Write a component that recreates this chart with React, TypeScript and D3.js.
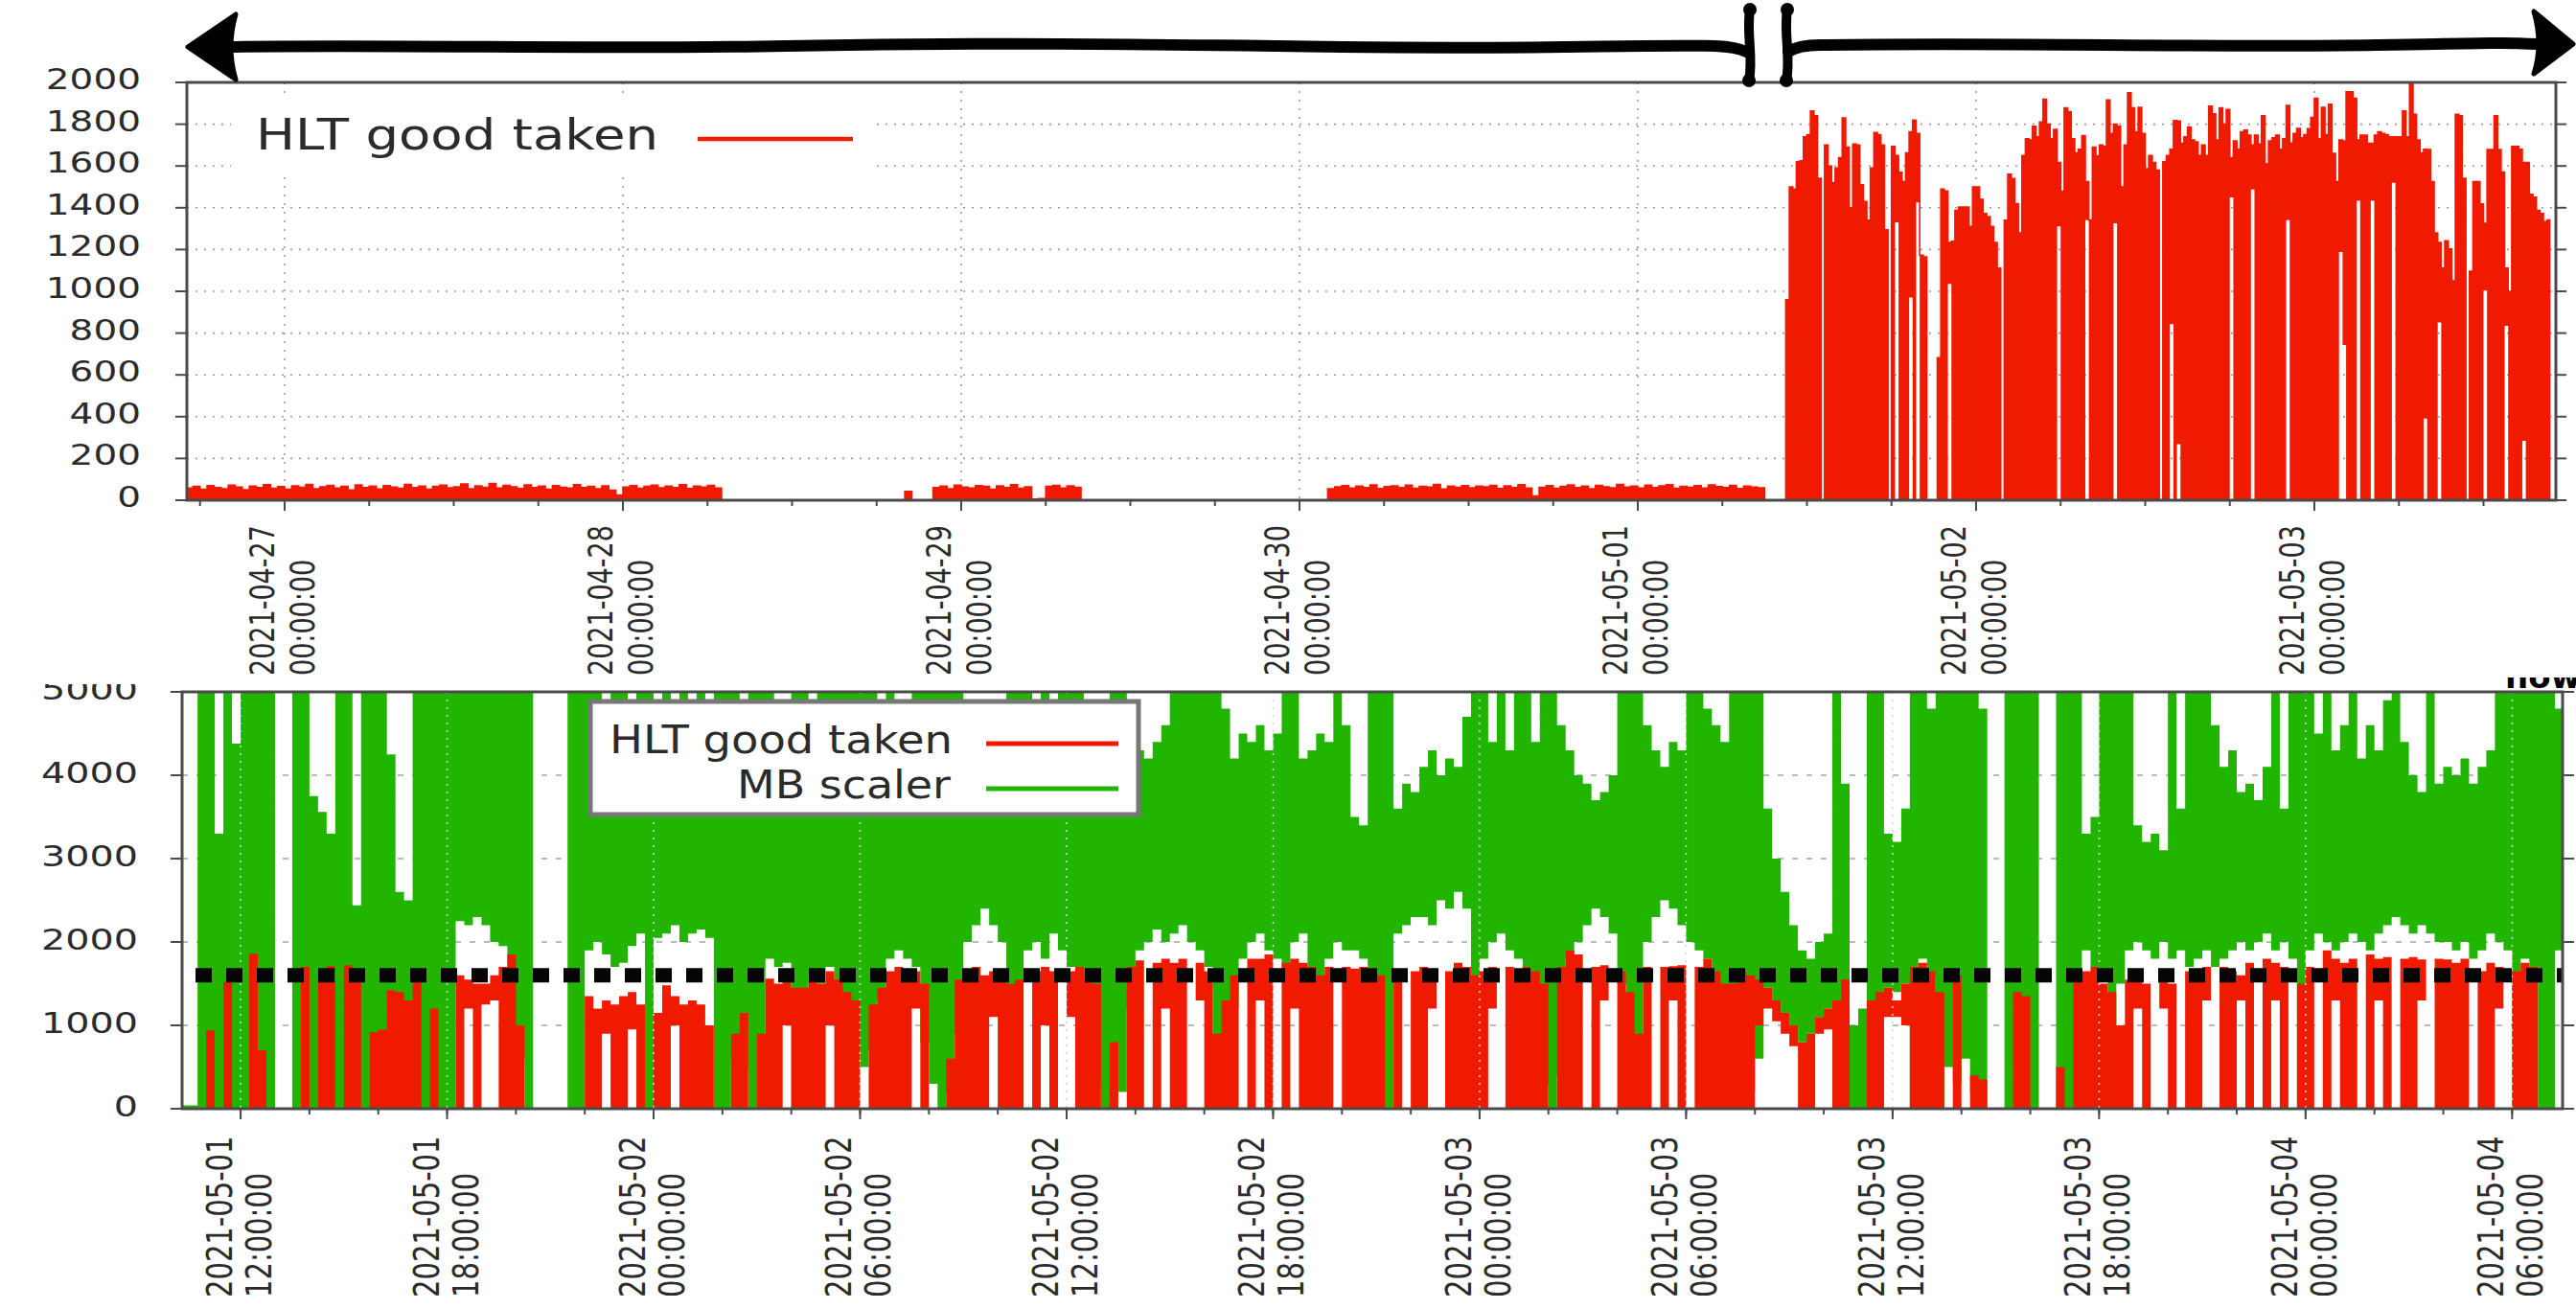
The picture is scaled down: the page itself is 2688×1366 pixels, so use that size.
import React from 'react';
import * as d3 from 'd3';

const FONT = "'DejaVu Sans', Verdana, sans-serif";
const RED = '#f01a00';
const GREEN = '#21b500';
const INK = '#2b2b2b';
const FRAME = '#4a4a4a';

// ---------- upper panel: HLT good taken, one week ----------
// 30-minute samples from 2021-04-26 17:00 UTC (cosmics / low-rate period)
const topLowStart = '2021-04-26T17:00:00Z';
const topLowRate = [
  58, 66, 52, 70, 61, 55, 72, 63, 50, 68,
  60, 74, 57, 65, 53, 69, 62, 76, 55, 64,
  71, 58, 66, 49, 73, 60, 67, 54, 70, 63,
  57, 75, 61, 68, 52, 66, 72, 59, 64, 78,
  55, 69, 62, 80, 58, 71, 64, 56, 73, 60,
  67, 53, 70, 62, 58, 74, 61, 66, 55, 69,
  48, 25, 63, 70, 57, 66, 72, 59, 68, 61,
  74, 56, 67, 63, 71, 58,
  0, 0, 0, 0, 0, 0, 0, 0, 0, 0,
  0, 0, 0, 0, 0, 0, 0, 0, 0, 0,
  0, 0, 0, 0, 0, 0,
  42, 0, 0, 0,
  60, 68, 55, 72, 63, 58, 70, 66, 52, 69, 61, 74, 57, 64,
  6, 8,
  66, 71, 58, 69, 62,
  0, 0, 0, 0, 0, 0, 0, 0, 0, 0,
  0, 0, 0, 0, 0, 0, 0, 0, 0, 0,
  0, 0, 0, 0, 0, 0, 0, 0, 0, 0,
  0, 0, 0, 0, 0,
  55, 64, 70, 58, 67, 61, 73, 56, 65, 69,
  60, 72, 57, 66, 63, 75, 54, 68, 62, 70,
  59, 67, 64, 71, 56, 69, 61, 74, 58, 20,
  62, 70, 57, 66, 73, 60, 68, 55, 71, 64,
  59, 76, 63, 67, 58, 72, 61, 69, 74, 57,
  66, 62, 70, 58, 73, 65, 60, 71, 56, 68, 63, 59,
  0, 0, 0,
];

// 15-minute peak rates from 2021-05-01 10:30 UTC (collisions)
const topHighStart = '2021-05-01T10:30:00Z';
const topHighPeak = [
  960, 1500, 1490, 1620, 1625, 1740, 1750, 1863, 1840, 1541,
  0, 1700, 1600, 1520, 1590, 1640, 1830, 1690, 1400, 1705,
  1700, 1510, 1430, 1340, 1590, 1760, 1750, 1700, 1295, 0,
  1694, 1650, 1570, 1525, 1663, 1763, 1820, 1755, 1173, 1165,
  0, 0, 0, 682, 1490, 1480, 1234, 1240, 1387, 1403,
  1403, 1403, 1311, 1500, 1500, 1440, 1372, 1357, 1311, 1234,
  1111, 0, 1340, 1560, 1540, 1420, 1280, 1650, 1730, 1725,
  1790, 1740, 1810, 1920, 1800, 1730, 1775, 1617, 1479, 1878,
  1860, 1730, 1663, 1680, 1745, 1525, 1341, 1690, 1648, 1700,
  1694, 1916, 1755, 1800, 1790, 1500, 1700, 1950, 1878, 1763,
  1880, 1755, 1587, 1650, 1617, 1580, 0, 1620, 1650, 1680,
  1817, 1815, 1709, 1740, 1786, 1725, 1715, 1650, 1700, 1650,
  1886, 1850, 1725, 1878, 1800, 1870, 1640, 1720, 1680, 1763,
  1771, 1748, 1700, 1748, 1705, 1840, 1610, 1720, 1735, 1748,
  1680, 1730, 1890, 1710, 1755, 1780, 1735, 1750, 1778, 1832,
  1924, 1730, 1880, 1750, 1895, 1660, 1525, 1725, 1720, 1955,
  1955, 1924, 1725, 1748, 1748, 1709, 1709, 1748, 1763, 1755,
  1750, 1740, 1740, 1740, 1740, 1863, 1740, 2000, 1847, 1725,
  1663, 1680, 1679, 1525, 1280, 1234, 1111, 1242, 1203, 1050,
  1847, 1840, 1541, 0, 1096, 1525, 1525, 1418, 1326, 1679,
  1679, 1840, 1679, 1571, 1111, 1000, 1694, 1694, 1680, 1617,
  1617, 1464, 1450, 1387, 1372, 1334, 1341,
];
// [sample index, lowest rate reached inside that sample]
const topHighFloor = [
  [31, 1330], [35, 970], [37, 1426], [46, 1035], [77, 1311], [85, 1341],
  [93, 1326], [109, 843], [111, 268], [126, 1449], [132, 1487], [142, 1341],
  [157, 1188], [158, 743], [162, 1433], [166, 1433], [172, 1520], [181, 391],
  [185, 851], [198, 1004], [204, 835], [209, 284],
];
const topDays = ['2021-04-27', '2021-04-28', '2021-04-29', '2021-04-30', '2021-05-01', '2021-05-02', '2021-05-03'];
const topYTicks = [0, 200, 400, 600, 800, 1000, 1200, 1400, 1600, 1800, 2000];

// ---------- lower panel: HLT good taken vs MB scaler, 15-minute ranges ----------
const bottomStart = '2021-05-01T10:15:00Z';
const mbLow = [
  0, 0, 0, 0, 0, 0, 0, 0, 0, 0, 0, 0,
  0, 0, 0, 0, 0, 0, 0, 0, 0, 0, 0, 0,
  0, 0, 0, 0, 0, 0, 0, 0, 2250, 2200, 2300, 2200,
  2000, 1950, 0, 600, 0, 0, 0, 0, 0, 0, 0, 1900,
  2000, 1850, 1700, 1750, 1950, 2100, 0, 2050, 2100, 2200, 2000, 2100,
  2150, 2050, 0, 0, 600, 500, 0, 0, 1800, 1700, 1750, 0,
  900, 1600, 1500, 1700, 1400, 1100, 700, 500, 700, 1300, 1800, 1900,
  1800, 1700, 800, 300, 0, 200, 900, 2000, 2200, 2400, 2200, 2000,
  0, 0, 1900, 2000, 1800, 2100, 1900, 1700, 1500, 1000, 300, 0,
  0, 200, 1200, 1900, 2000, 2150, 2000, 2100, 2200, 2000, 1900, 1700,
  0, 300, 1200, 1800, 2000, 2100, 1900, 1800, 1700, 2000, 2100, 0,
  0, 1800, 2000, 1900, 1900, 1800, 0, 0, 0, 2100, 2200, 2300,
  2300, 2200, 2500, 2400, 2600, 2400, 0, 1800, 2000, 2100, 1900, 1800,
  1700, 1200, 300, 0, 400, 1800, 2000, 2200, 2400, 2300, 2100, 1500,
  0, 0, 2000, 2300, 2500, 2400, 2200, 2000, 1900, 1800, 900, 200,
  0, 0, 200, 600, 1450, 1300, 1150, 1000, 800, 900, 1100, 1200,
  0, 900, 0, 0, 0, 0, 1450, 1400, 1500, 0, 1800, 1600,
  0, 500, 300, 600, 200, 0, 0, 0, 0, 0, 0, 0,
  0, 0, 0, 0, 0, 1900, 1700, 1600, 0, 1500, 1900, 2000,
  1900, 1800, 2000, 1800, 1900, 1700, 1800, 1900, 1700, 1800, 1900, 2000,
  1900, 2000, 2100, 1900, 2000, 1800, 0, 1900, 2100, 2000, 1900, 2000,
  2100, 2000, 1900, 2100, 2200, 2300, 2200, 2100, 2200, 2100, 2000, 2000,
  1900, 2000, 1800, 1900, 2100, 2000, 1900, 0, 1800, 1700, 0, 0,
  1900,
];
const mbHigh = [
  40, 40, 5600, 5600, 3300, 5600, 4380, 5600, 5600, 5600, 5600, 0,
  0, 5600, 5600, 3750, 3560, 3300, 5600, 5600, 2440, 5600, 5600, 5600,
  4250, 2600, 2500, 5600, 5600, 5600, 5600, 5600, 5600, 5600, 5600, 5600,
  5600, 5600, 5600, 5600, 5600, 0, 0, 0, 0, 5600, 5600, 5600,
  5600, 4600, 5600, 5600, 4500, 5600, 5600, 4600, 5600, 4500, 5600, 4700,
  5600, 4600, 5600, 5600, 5600, 4700, 5600, 5600, 5600, 4300, 4500, 5600,
  5600, 4600, 5600, 5600, 5600, 5600, 5600, 5600, 5600, 4500, 5600, 4400,
  4600, 5600, 5600, 5600, 5600, 5600, 5600, 4500, 4400, 4500, 4600, 4500,
  5600, 5600, 5600, 4400, 5600, 4500, 5600, 5600, 5600, 4300, 4200, 4300,
  5600, 5600, 4600, 4300, 4200, 4400, 4600, 5600, 5600, 5600, 5600, 5600,
  5600, 4800, 4200, 4500, 4400, 4600, 4300, 4500, 5600, 5600, 4200, 4300,
  4500, 4400, 5600, 4600, 3500, 3400, 5600, 5600, 5600, 3600, 3900, 3800,
  4100, 4300, 4000, 4200, 4100, 4700, 5600, 5600, 4400, 5600, 4300, 5600,
  5600, 4400, 5600, 5600, 4600, 4300, 4000, 3900, 3700, 3800, 4000, 5600,
  5600, 5600, 4600, 4300, 4100, 4400, 4300, 5600, 5600, 4800, 4600, 4400,
  5600, 5600, 5600, 5600, 3600, 3000, 2600, 2200, 1900, 1800, 2000, 2100,
  5600, 3900, 1000, 1200, 5600, 5600, 3300, 3200, 3600, 5600, 5600, 4800,
  5600, 5600, 5600, 5600, 5600, 4800, 0, 0, 5600, 5600, 5600, 5600,
  0, 0, 5600, 5600, 5600, 3300, 3500, 5600, 5600, 5600, 5600, 3400,
  3200, 3300, 3100, 5600, 3600, 5600, 5600, 5600, 4600, 4100, 4300, 3800,
  3900, 3700, 4100, 5600, 3600, 5600, 5600, 5600, 4500, 5600, 4300, 4600,
  5600, 4200, 4600, 4300, 4900, 5600, 4400, 4000, 3800, 5600, 3900, 4100,
  4000, 4200, 3900, 4100, 4300, 5600, 5600, 5600, 5600, 5600, 5600, 5600,
  4800,
];
const hltLow = [
  0, 0, 0, 0, 0, 0, 0, 0, 0, 0, 0, 0,
  0, 0, 0, 0, 0, 0, 0, 0, 0, 0, 0, 0,
  0, 0, 0, 0, 0, 0, 0, 0, 0, 1200, 0, 1250,
  1300, 0, 0, 0, 0, 0, 0, 0, 0, 0, 0, 0,
  0, 900, 0, 0, 950, 0, 0, 0, 0, 1000, 0, 0,
  0, 0, 0, 0, 0, 0, 0, 0, 0, 0, 1000, 0,
  0, 0, 0, 1000, 0, 0, 0, 0, 0, 0, 0, 0,
  0, 1200, 0, 0, 0, 0, 0, 0, 0, 0, 1100, 0,
  0, 0, 0, 0, 1000, 0, 0, 1100, 0, 0, 0, 0,
  0, 0, 0, 0, 0, 0, 1200, 0, 0, 0, 1300, 0,
  0, 0, 0, 0, 0, 1300, 0, 0, 0, 1200, 0, 0,
  0, 0, 0, 0, 0, 0, 0, 0, 0, 0, 0, 0,
  0, 1200, 0, 0, 0, 0, 0, 0, 1200, 0, 0, 0,
  0, 0, 0, 0, 0, 0, 0, 0, 0, 1300, 0, 0,
  0, 0, 0, 0, 0, 1300, 0, 0, 0, 0, 0, 0,
  0, 0, 0, 1000, 1200, 1050, 900, 750, 0, 0, 900, 950,
  0, 0, 0, 0, 0, 0, 1100, 1100, 1000, 0, 0, 0,
  0, 0, 0, 0, 0, 0, 0, 0, 0, 0, 0, 0,
  0, 0, 0, 0, 0, 0, 0, 0, 0, 0, 0, 1200,
  0, 0, 1200, 0, 0, 0, 0, 1300, 0, 0, 0, 1300,
  0, 0, 0, 1300, 0, 0, 0, 0, 0, 0, 1300, 0,
  0, 0, 0, 1300, 0, 0, 0, 0, 1300, 0, 0, 0,
  0, 0, 0, 0, 0, 1200, 0, 0, 0, 0, 0, 0,
  0,
];
const hltHigh = [
  0, 0, 0, 940, 0, 1520, 0, 0, 1860, 700, 0, 0,
  0, 0, 1700, 0, 1650, 1710, 0, 1720, 1650, 0, 920, 950,
  1420, 1400, 1300, 1560, 0, 1200, 0, 0, 1600, 1550, 1500, 1500,
  1600, 1700, 1850, 1000, 0, 0, 0, 0, 0, 0, 0, 1350,
  1200, 1300, 1250, 1350, 1400, 1250, 0, 1150, 1480, 1350, 1250, 1300,
  1250, 1000, 0, 0, 900, 1150, 0, 900, 1560, 1500, 1550, 1450,
  1450, 1600, 1500, 1650, 1550, 1400, 1300, 0, 1250, 1450, 1650, 1700,
  1600, 1650, 1500, 0, 0, 600, 1550, 1650, 1700, 1600, 1650, 1600,
  1500, 1550, 0, 1650, 1700, 1650, 0, 1650, 1700, 1600, 1500, 0,
  800, 0, 1700, 1780, 0, 1750, 1800, 1750, 1800, 0, 1750, 1650,
  900, 1300, 1600, 0, 1800, 1800, 1850, 0, 1750, 1800, 1750, 1700,
  1600, 1700, 0, 1700, 1680, 1700, 1650, 1600, 0, 1650, 0, 1650,
  1700, 1680, 0, 1650, 1750, 1700, 1600, 1650, 1700, 0, 1700, 1650,
  1700, 1650, 1500, 0, 1700, 1900, 1850, 0, 1700, 1720, 0, 1650,
  1400, 900, 1700, 0, 1700, 1710, 1720, 0, 1700, 1800, 1650, 1500,
  1500, 1650, 1600, 1550, 1450, 1300, 1150, 1000, 800, 900, 1100, 1200,
  1300, 1550, 0, 0, 1300, 1400, 1450, 1300, 1500, 1700, 1750, 1650,
  1400, 0, 1600, 0, 400, 350, 0, 0, 0, 1400, 1350, 0,
  0, 0, 500, 0, 1600, 1650, 1700, 1500, 1400, 1000, 1550, 1600,
  1500, 0, 1550, 1500, 0, 1650, 1600, 1700, 0, 1700, 1650, 1600,
  1750, 0, 1800, 1750, 1700, 0, 1500, 1700, 0, 1900, 1800, 1750,
  1800, 0, 1850, 1800, 1820, 0, 1800, 1820, 1790, 0, 1800, 1790,
  1750, 1800, 0, 1650, 1750, 1700, 0, 1650, 1750, 1700, 0, 0,
  0,
];
const bottomTicks = [
  '2021-05-01T12:00:00Z', '2021-05-01T18:00:00Z', '2021-05-02T00:00:00Z', '2021-05-02T06:00:00Z',
  '2021-05-02T12:00:00Z', '2021-05-02T18:00:00Z', '2021-05-03T00:00:00Z', '2021-05-03T06:00:00Z',
  '2021-05-03T12:00:00Z', '2021-05-03T18:00:00Z', '2021-05-04T00:00:00Z', '2021-05-04T06:00:00Z',
];
const bottomYTicks = [0, 1000, 2000, 3000, 4000, 5000];
const hltTarget = 1600;

const MIN = 60e3;
const fmtDate = d3.utcFormat('%Y-%m-%d');
const fmtTime = d3.utcFormat('%H:%M:%S');

type Bin = { t: number; lo: number; hi: number };

function stepArea(x: (t: number) => number, y: d3.ScaleLinear<number, number>) {
  return d3
    .area<Bin>()
    .x((d) => x(d.t))
    .y0((d) => y(d.lo))
    .y1((d) => y(d.hi))
    .curve(d3.curveStepAfter);
}

function withEnd(bins: Bin[], stepMs: number): Bin[] {
  const last = bins[bins.length - 1];
  return [...bins, { ...last, t: last.t + stepMs }];
}

export default function App() {
  // ----- upper panel scales -----
  const tx = d3
    .scaleUtc()
    .domain([new Date('2021-04-26T17:04:00Z'), new Date('2021-05-03T17:08:00Z')])
    .range([195, 2667]);
  const ty = d3.scaleLinear().domain([0, 2000]).range([522, 86]);
  const txn = (t: number) => tx(new Date(t));

  const lowT0 = +new Date(topLowStart);
  const highT0 = +new Date(topHighStart);
  const floorByBin = new Map<number, number>(topHighFloor as [number, number][]);
  const topBins: Bin[] = [
    ...topLowRate.map((v, i) => ({ t: lowT0 + i * 30 * MIN, lo: 0, hi: v })),
    ...topHighPeak.map((v, i) => ({ t: highT0 + i * 15 * MIN, lo: floorByBin.get(i) ?? 0, hi: v })),
  ];
  const topSeries = withEnd(topBins, 15 * MIN);
  const topAreaPath = stepArea(txn, ty)(topSeries) || '';
  const topEdgePath =
    d3
      .line<Bin>()
      .x((d) => txn(d.t))
      .y((d) => ty(d.hi))
      .curve(d3.curveStepAfter)(topSeries) || '';

  const [tD0, tD1] = tx.domain();
  const topMinor = d3.utcHour.every(6)!.range(tD0, tD1);
  const topMajor = topDays.map((d) => new Date(d + 'T00:00:00Z'));

  // ----- lower panel scales -----
  const bx = d3
    .scaleUtc()
    .domain([new Date('2021-05-01T10:18:00Z'), new Date('2021-05-04T07:28:00Z')])
    .range([190, 2674]);
  const by = d3.scaleLinear().domain([0, 5000]).range([1157, 722]);
  const bxn = (t: number) => bx(new Date(t));
  const b0 = +new Date(bottomStart);
  const mbSeries = withEnd(
    mbLow.map((lo, k) => ({ t: b0 + k * 15 * MIN, lo, hi: mbHigh[k] })),
    15 * MIN
  );
  const hltSeries = withEnd(
    hltLow.map((lo, k) => ({ t: b0 + k * 15 * MIN, lo, hi: hltHigh[k] })),
    15 * MIN
  );
  const mbPath = stepArea(bxn, by)(mbSeries) || '';
  const hltPath = stepArea(bxn, by)(hltSeries) || '';
  const [bD0, bD1] = bx.domain();
  const bottomMinor = d3.utcHour.every(2)!.range(bD0, bD1);
  const bottomMajor = bottomTicks.map((s) => new Date(s));

  const [tL, tR] = tx.range();
  const [tB, tT] = ty.range();
  const [bL, bR] = bx.range();
  const [bB, bT] = by.range();

  return (
    <svg
      width={2688}
      height={1366}
      viewBox="0 0 2688 1366"
      style={{ position: 'absolute', left: 0, top: 0, background: '#fff' }}
      fontFamily={FONT}
    >
      <defs>
        <clipPath id="topPlot">
          <rect x={tL} y={tT} width={tR - tL} height={tB - tT} />
        </clipPath>
        <clipPath id="bottomPlot">
          <rect x={bL} y={bT} width={bR - bL} height={bB - bT} />
        </clipPath>
        <clipPath id="bottomLabels">
          <rect x={0} y={714} width={2688} height={652} />
        </clipPath>
        <clipPath id="nowClip">
          <rect x={2560} y={707} width={128} height={14} />
        </clipPath>
      </defs>
      <rect x={0} y={0} width={2688} height={1366} fill="#fff" />

      {/* ================= upper panel ================= */}
      <g>
        {topYTicks.slice(1, -1).map((v) => (
          <line key={'tg' + v} x1={tL} x2={tR} y1={ty(v)} y2={ty(v)} stroke="#9c9c9c" strokeWidth={1.6} strokeDasharray="2 7" />
        ))}
        {topMajor.map((d) => (
          <line key={'tv' + +d} x1={tx(d)} x2={tx(d)} y1={tT} y2={tB} stroke="#9c9c9c" strokeWidth={1.6} strokeDasharray="2 7" />
        ))}
        {/* legend background */}
        <rect x={241} y={104} width={670} height={78} fill="#fff" />
        <text x={267} y={156} fontSize={44} fill={INK} textLength={420} lengthAdjust="spacingAndGlyphs">
          HLT good taken
        </text>
        <line x1={728} x2={890} y1={145} y2={145} stroke={RED} strokeWidth={4.5} />

        <g clipPath="url(#topPlot)">
          <path d={topAreaPath} fill={RED} />
          <path d={topEdgePath} fill="none" stroke={RED} strokeWidth={1.6} />
        </g>

        <rect x={tL} y={tT} width={tR - tL} height={tB - tT} fill="none" stroke={FRAME} strokeWidth={3} />

        {topYTicks.map((v) => (
          <g key={'ty' + v}>
            <line x1={tL - 12} x2={tL} y1={ty(v)} y2={ty(v)} stroke={FRAME} strokeWidth={2} />
            <line x1={tR} x2={tR + 11} y1={ty(v)} y2={ty(v)} stroke={FRAME} strokeWidth={2} />
            <text
              transform={`translate(147,${ty(v) + 6.9}) scale(1.3,1)`}
              textAnchor="end"
              fontSize={30}
              fill={INK}
            >
              {v}
            </text>
          </g>
        ))}
        {topMinor.map((d) => (
          <line key={'tm' + +d} x1={tx(d)} x2={tx(d)} y1={tB} y2={tB + 6} stroke={FRAME} strokeWidth={2} />
        ))}
        {topMajor.map((d) => (
          <g key={'tl' + +d}>
            <line x1={tx(d)} x2={tx(d)} y1={tB} y2={tB + 11} stroke={FRAME} strokeWidth={2} />
            <text transform={`translate(${tx(d) - 11},705) rotate(-90) scale(1,1.3)`} fontSize={27} fill={INK}>
              {fmtDate(d)}
            </text>
            <text transform={`translate(${tx(d) + 31},705) rotate(-90) scale(1,1.3)`} fontSize={27} fill={INK}>
              {fmtTime(d)}
            </text>
          </g>
        ))}
      </g>

      {/* ================= lower panel ================= */}
      <g>
        {bottomYTicks.slice(1, -1).map((v) => (
          <line key={'bg' + v} x1={bL} x2={bR} y1={by(v)} y2={by(v)} stroke="#a4a4a4" strokeWidth={1.6} strokeDasharray="6 9" />
        ))}
        <g clipPath="url(#bottomPlot)">
          <path d={mbPath} fill={GREEN} />
          <path d={hltPath} fill={RED} />
        </g>
        {bottomMajor.map((d) => (
          <line key={'bv' + +d} x1={bx(d)} x2={bx(d)} y1={bT} y2={bB} stroke="#d6d6d6" strokeWidth={1.6} strokeDasharray="2 6" />
        ))}
        <line
          x1={bL}
          x2={bR}
          y1={by(hltTarget)}
          y2={by(hltTarget)}
          stroke="#050505"
          strokeWidth={15}
          strokeDasharray="17 15"
          strokeDashoffset={18}
        />
        <rect x={bL} y={bT} width={bR - bL} height={bB - bT} fill="none" stroke={FRAME} strokeWidth={3} />

        {/* legend */}
        <rect x={616} y={732} width={572} height={118} fill="#fff" stroke="#777" strokeWidth={5} />
        <text x={636} y={786} fontSize={40} fill={INK} textLength={358} lengthAdjust="spacingAndGlyphs">
          HLT good taken
        </text>
        <text x={769} y={833} fontSize={40} fill={INK} textLength={223} lengthAdjust="spacingAndGlyphs">
          MB scaler
        </text>
        <line x1={1029} x2={1167} y1={776} y2={776} stroke={RED} strokeWidth={5} />
        <line x1={1029} x2={1167} y1={823} y2={823} stroke={GREEN} strokeWidth={5} />

        <g clipPath="url(#bottomLabels)">
          {bottomYTicks.map((v) => (
            <g key={'by' + v}>
              <line x1={bL - 12} x2={bL} y1={by(v)} y2={by(v)} stroke={FRAME} strokeWidth={2} />
              <line x1={bR} x2={bR + 12} y1={by(v)} y2={by(v)} stroke={FRAME} strokeWidth={2} />
              <text
                transform={`translate(144,${by(v) + 8.3}) scale(1.28,1)`}
                textAnchor="end"
                fontSize={31}
                fill={INK}
              >
                {v}
              </text>
            </g>
          ))}
        </g>
        {bottomMinor.map((d) => (
          <line key={'bm' + +d} x1={bx(d)} x2={bx(d)} y1={bB} y2={bB + 6} stroke={FRAME} strokeWidth={2} />
        ))}
        {bottomMajor.map((d) => (
          <g key={'bl' + +d}>
            <line x1={bx(d)} x2={bx(d)} y1={bB} y2={bB + 11} stroke={FRAME} strokeWidth={2} />
            <text transform={`translate(${bx(d) - 9},1354) rotate(-90) scale(1,1.3)`} fontSize={29} fill={INK}>
              {fmtDate(d)}
            </text>
            <text transform={`translate(${bx(d) + 32},1354) rotate(-90) scale(1,1.3)`} fontSize={29} fill={INK}>
              {fmtTime(d)}
            </text>
          </g>
        ))}
        <text x={2614} y={718} fontSize={34} fontWeight="bold" fill="#000" clipPath="url(#nowClip)">
          now
        </text>
      </g>

      {/* ================= hand-drawn range arrows ================= */}
      <g fill="#000" stroke="#000" strokeLinecap="round" strokeLinejoin="round">
        <path
          d="M232,49 C420,46 610,52 820,48 S1180,46 1400,49 S1700,46 1790,48 Q1812,49 1822,54"
          fill="none"
          strokeWidth={12}
        />
        <path d="M196,49 L246,15 Q236,49 246,83 Z" strokeWidth={5} />
        <path d="M1866,54 Q1878,46 1905,47 C2100,44 2300,50 2480,47 S2600,45 2650,46" fill="none" strokeWidth={12} />
        <path d="M2685,46 L2644,12 Q2654,46 2644,77 Z" strokeWidth={5} />
        <path d="M1826,10 C1822,36 1830,60 1825,84" fill="none" strokeWidth={10} />
        <path d="M1865,10 C1861,36 1869,60 1864,84" fill="none" strokeWidth={10} />
        <circle cx={1826} cy={10} r={7} stroke="none" />
        <circle cx={1825} cy={84} r={7} stroke="none" />
        <circle cx={1865} cy={10} r={7} stroke="none" />
        <circle cx={1864} cy={84} r={7} stroke="none" />
      </g>
    </svg>
  );
}
